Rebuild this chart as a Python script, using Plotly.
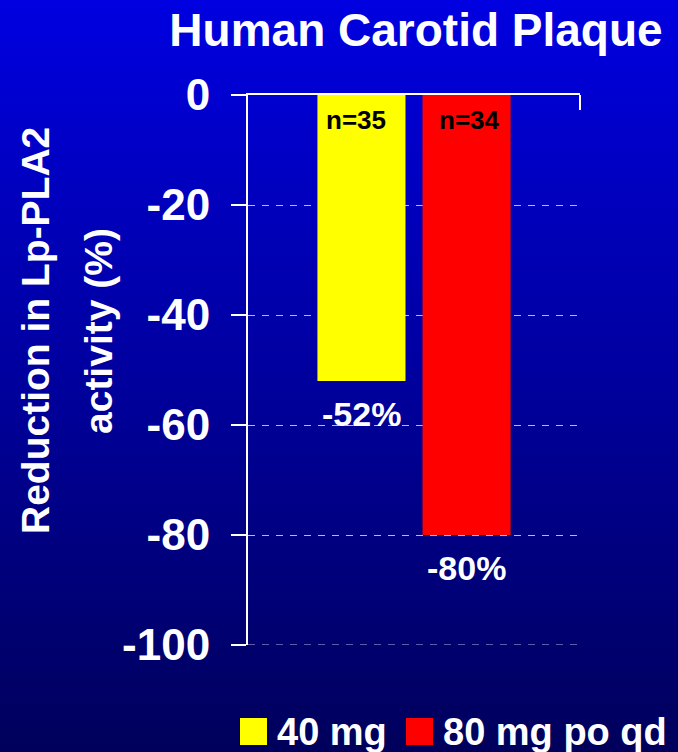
import plotly.graph_objects as go

# ---- data ----
category = ["Carotid plaque"]
series_names = ["40 mg", "80 mg po qd"]
series_values = [-52, -80]
sample_sizes = ["n=35", "n=34"]
series_colors = ["#FFFF00", "#FF0000"]
y_ticks = [0, -20, -40, -60, -80, -100]
title_text = "Human Carotid Plaque"
y_title_lines = ["Reduction in Lp-PLA2", "activity (%)"]

W, H = 678, 752
L, R, T, B = 248, 98, 95, 107
PW, PH = W - L - R, H - T - B
FONT = "Liberation Sans, Arial, Helvetica, sans-serif"
GRID = "rgba(205,205,240,0.9)"


def px(x):
    return (x - L) / PW


def py(y):
    return (H - B - y) / PH


fig = go.Figure()
for name, val, col in zip(series_names, series_values, series_colors):
    fig.add_trace(go.Bar(x=category, y=[val], name=name, marker=dict(color=col, line=dict(width=0)),
                         showlegend=False, hoverinfo="skip"))

shapes = []
# vertical blue gradient background
n_strips = 94
top_rgb = (0, 0, 224)
bot_rgb = (0, 0, 92)
for i in range(n_strips):
    t = i / (n_strips - 1)
    c = tuple(round(a + (b - a) * t) for a, b in zip(top_rgb, bot_rgb))
    y0 = i * H / n_strips
    y1 = (i + 1) * H / n_strips + 1
    shapes.append(dict(type="rect", xref="paper", yref="paper", x0=px(-2), x1=px(W + 2),
                       y0=py(y1), y1=py(y0), fillcolor="rgb(%d,%d,%d)" % c,
                       line=dict(width=0), layer="below"))

# dashed gridline along the bottom of the value range
shapes.append(dict(type="line", xref="paper", yref="y", x0=0, x1=1, y0=min(y_ticks), y1=min(y_ticks),
                   line=dict(color=GRID, width=1, dash="7px,7px"), layer="below"))
# tick closing the category axis on the right
shapes.append(dict(type="line", xref="paper", yref="paper", x0=1, x1=1, y0=py(110), y1=1,
                   line=dict(color="white", width=2)))

annotations = []
offsets = [(-58, -52.5), (55, 52.5)]
for lab, val, (ndx, vdx) in zip(sample_sizes, series_values, offsets):
    annotations.append(dict(x=0, y=0, xref="x", yref="y", text=lab, showarrow=False,
                            xshift=ndx, yshift=-25, yanchor="middle",
                            font=dict(family=FONT, size=26, color="black", weight="bold")))
    annotations.append(dict(x=0, y=val, xref="x", yref="y", text="%d%%" % val, showarrow=False,
                            xshift=vdx, yshift=-33, yanchor="middle",
                            font=dict(family=FONT, size=34, color="white", weight="bold")))

# rotated two-line y axis title
for line, cx in zip(y_title_lines, [35, 98]):
    annotations.append(dict(x=px(cx), y=py(331), xref="paper", yref="paper", text=line,
                            textangle=-90, showarrow=False, xanchor="center", yanchor="middle",
                            font=dict(family=FONT, size=39, color="white", weight="bold")))

# legend drawn as squares and labels beneath the chart
legend_x = [240, 406]
for name, col, lx in zip(series_names, series_colors, legend_x):
    shapes.append(dict(type="rect", xref="paper", yref="paper", x0=px(lx), x1=px(lx + 27),
                       y0=py(745), y1=py(718), fillcolor=col, line=dict(width=0)))
    annotations.append(dict(x=px(lx + 35), y=py(732), xref="paper", yref="paper", text=name,
                            showarrow=False, xanchor="left", yanchor="middle",
                            font=dict(family=FONT, size=38, color="white", weight="bold")))

fig.update_layout(
    width=W, height=H,
    margin=dict(l=L, r=R, t=T, b=B, pad=0),
    paper_bgcolor="#00008C",
    plot_bgcolor="rgba(0,0,0,0)",
    barmode="group", bargap=0.367, bargroupgap=0.162,
    title=dict(text=title_text, x=px(416), xref="paper", xanchor="center",
               y=1 - 30 / H, yref="container", yanchor="middle",
               font=dict(family=FONT, size=46, color="white", weight="bold")),
    shapes=shapes,
    annotations=annotations,
    showlegend=False,
)
fig.update_xaxes(type="category", side="top", showline=True, linecolor="white", linewidth=2,
                 ticks="inside", tickson="boundaries", ticklen=15, tickwidth=2, tickcolor="white",
                 showticklabels=False, showgrid=False, zeroline=False, fixedrange=True)
fig.update_yaxes(range=[-100, 0], tickvals=y_ticks, ticktext=[str(v) for v in y_ticks],
                 ticks="outside", ticklen=15, tickwidth=2, tickcolor="white",
                 showline=True, linecolor="white", linewidth=2,
                 showgrid=True, gridcolor=GRID, gridwidth=1, griddash="7px,7px",
                 zeroline=False, ticklabelstandoff=12, fixedrange=True,
                 tickfont=dict(family=FONT, size=44, color="white", weight="bold"))

fig.write_html("out.html")
